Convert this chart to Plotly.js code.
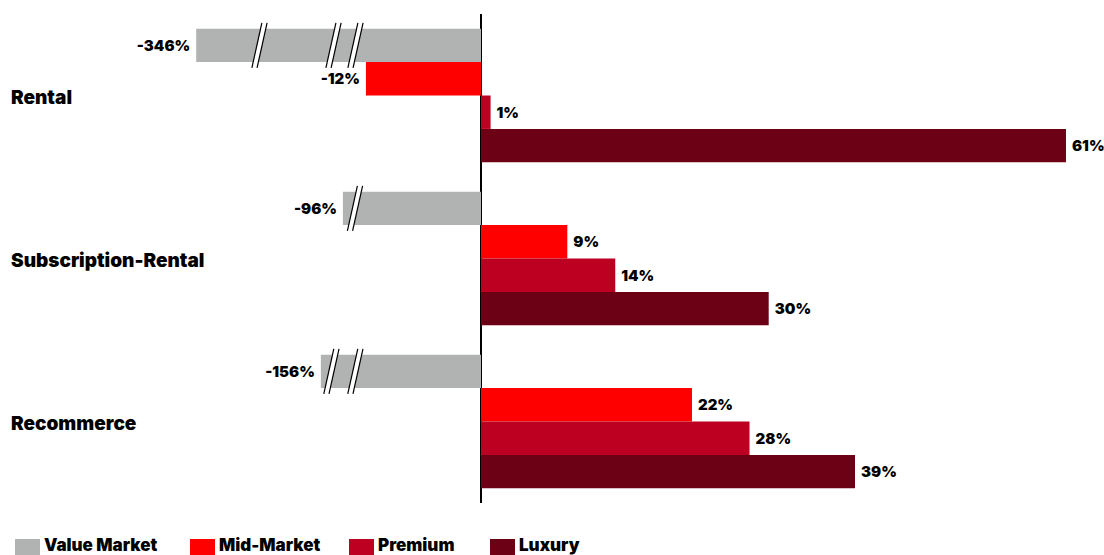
<!DOCTYPE html>
<html>
<head>
<meta charset="utf-8">
<script src="https://cdn.plot.ly/plotly-3.0.1.min.js"></script>
<style>html,body{margin:0;padding:0;background:#fff;}#chart{width:1104px;height:555px;}</style>
</head>
<body>
<div id="chart"></div>
<script>
// ---- data ----
const categories = ['Rental', 'Subscription-Rental', 'Recommerce'];
const seriesNames = ['Value Market', 'Mid-Market', 'Premium', 'Luxury'];
const valueMarket = [-346, -96, -156];          // actual values (labels)
const valueMarketDrawn = [-29.7, -14.4, -16.7]; // truncated bar lengths as drawn (broken bars)
const midMarket = [-12, 9, 22];
const premium = [1, 14, 28];
const luxury = [61, 30, 39];

// ---- styling / layout ----
const colors = ['#b1b3b3', '#ff0000', '#bd0022', '#6c0015'];
const W = 1104, H = 555;
const mL = 0, mR = 0, mT = 14, mB = 52;
const zeroPx = 481, pxPerUnit = 9.59;
const plotH = H - mT - mB;
const xRange = [-(zeroPx - mL) / pxPerUnit, (W - mR - zeroPx) / pxPerUnit];
const FONT = 'Inter, "Liberation Sans", Arial, sans-serif';
const NB = '\u00a0';

const pct = v => (v < 0 ? v + '%' + NB : NB + v + '%');
const seriesX = [valueMarketDrawn, midMarket, premium, luxury];
const seriesText = [valueMarket, midMarket, premium, luxury].map(a => a.map(pct));

const traces = seriesNames.map((name, i) => ({
  type: 'bar',
  orientation: 'h',
  name: name,
  y: categories,
  x: seriesX[i],
  text: seriesText[i],
  textposition: 'outside',
  constraintext: 'none',
  cliponaxis: false,
  textfont: {family: FONT, size: 15, color: '#000', weight: 900},
  marker: {color: colors[i], line: {width: 0}},
  hoverinfo: 'skip',
  showlegend: false
}));

// break marks on the truncated Value Market bars
const breaks = [
  {cat: 0, xs: [-23.1, -15.38, -13.09]},
  {cat: 1, xs: [-13.14]},
  {cat: 2, xs: [-15.6, -13.1]}
];
const bargap = 0.18;
const barW = (1 - bargap) / 4;
const grayOffset = -1.5 * barW;
const halfDy = 22.5 / (plotH / 3);   // category units
const slant = 5 / pxPerUnit;         // half horizontal slant
const sep = 2.6 / pxPerUnit;         // half separation of the two lines
const shapes = [];
breaks.forEach(b => {
  const yc = b.cat + grayOffset;
  b.xs.forEach(xc => {
    shapes.push({type: 'line', xref: 'x', yref: 'y', x0: xc - slant, y0: yc + halfDy, x1: xc + slant, y1: yc - halfDy,
      line: {color: '#ffffff', width: 4.6}});
    [-sep, sep].forEach(o => {
      shapes.push({type: 'line', xref: 'x', yref: 'y', x0: xc + o - slant, y0: yc + halfDy, x1: xc + o + slant, y1: yc - halfDy,
        line: {color: '#000000', width: 1.2}});
    });
  });
});

// custom legend
const legendX = [15, 190, 349, 490];
const pxToPaperX = px => (px - mL) / (W - mL - mR);
const pxToPaperY = py => (H - mB - py) / plotH;
const annotations = [];
seriesNames.forEach((name, i) => {
  shapes.push({type: 'rect', xref: 'paper', yref: 'paper',
    x0: pxToPaperX(legendX[i]), x1: pxToPaperX(legendX[i] + 25),
    y0: pxToPaperY(539), y1: pxToPaperY(560),
    fillcolor: colors[i], line: {width: 0}});
  annotations.push({xref: 'paper', yref: 'paper', x: pxToPaperX(legendX[i] + 27), y: pxToPaperY(545),
    xanchor: 'left', yanchor: 'middle', showarrow: false, text: name,
    font: {family: FONT, size: 17, color: '#000', weight: 900}});
});
// category labels
categories.forEach((c, i) => {
  annotations.push({xref: 'paper', yref: 'y', x: pxToPaperX(9), y: i + 0.01,
    xanchor: 'left', yanchor: 'middle', showarrow: false, text: c,
    font: {family: FONT, size: 19, color: '#000', weight: 900}});
});

const layout = {
  width: W, height: H,
  margin: {l: mL, r: mR, t: mT, b: mB, pad: 0},
  paper_bgcolor: '#ffffff', plot_bgcolor: '#ffffff',
  barmode: 'group', bargap: bargap, bargroupgap: 0,
  showlegend: false,
  xaxis: {range: xRange, showgrid: false, showticklabels: false, ticks: '',
    zeroline: true, zerolinecolor: '#000000', zerolinewidth: 2.5, layer: 'above traces', fixedrange: true},
  yaxis: {type: 'category', range: [2.5, -0.5], showgrid: false, showticklabels: false, ticks: '',
    zeroline: false, fixedrange: true},
  shapes: shapes,
  annotations: annotations
};

Plotly.newPlot('chart', traces, layout, {displayModeBar: false, staticPlot: true});
</script>
</body>
</html>
